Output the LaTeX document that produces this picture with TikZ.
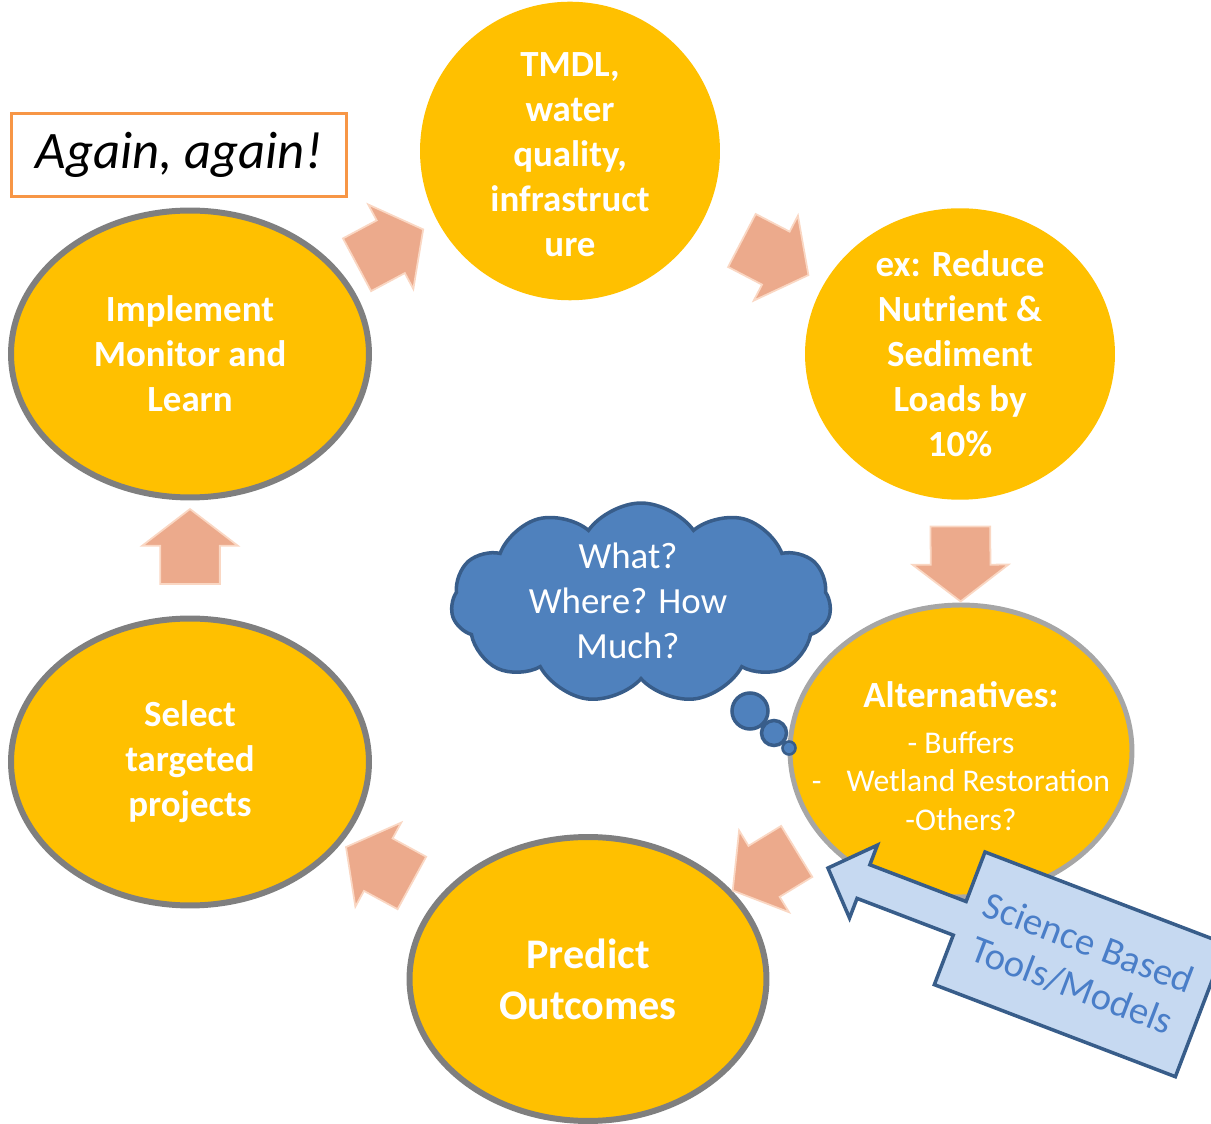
\documentclass[tikz,border=0pt]{standalone}
\usepackage{fontspec}
\setmainfont{Carlito}
\usepackage{tikz}
\usetikzlibrary{positioning,calc,shapes.geometric,shapes.symbols,shapes.arrows}
\definecolor{stagegold}{RGB}{255,192,0}
\definecolor{stageedge}{RGB}{127,127,127}
\definecolor{altedge}{RGB}{166,166,166}
\definecolor{flowpeach}{RGB}{236,170,140}
\definecolor{flowrim}{RGB}{250,215,195}
\definecolor{cloudfill}{RGB}{79,129,189}
\definecolor{cloudedge}{RGB}{56,93,138}
\definecolor{toolsfill}{RGB}{198,217,241}
\definecolor{toolstext}{RGB}{74,126,200}
\definecolor{againedge}{RGB}{247,150,70}

\begin{document}
\begin{tikzpicture}[
    x=0.02cm, y=-0.02cm,
    stage/.style={ellipse, fill=stagegold, inner sep=0pt, align=center, text=white, font=\bfseries\fontsize{21}{25.6}\selectfont},
    ringed/.style={stage, draw=stageedge, line width=3.4pt},
    flow/.style={single arrow, fill=flowpeach, draw=flowrim, line width=1pt, minimum height=1.5cm, inner xsep=0pt, inner ysep=0.58cm, single arrow head extend=0.36cm, single arrow tip angle=105},
    thought/.style={fill=cloudfill, draw=cloudedge, line width=2pt},
]
    \useasboundingbox (0, 0) rectangle (1211, 1124);
    \clip (0, 0) rectangle (1211, 1124);

    \node[stage, minimum width=6cm, minimum height=5.94cm] (tmdl) at (570, 151) {\\[-8pt]TMDL,\\water\\quality,\\infrastruct\\ure};
    \node[stage, minimum width=6.2cm, minimum height=5.76cm] (reduce) at (960, 354) {ex: Reduce\\Nutrient \&\\Sediment\\Loads by\\10\%};
    \node[stage, draw=altedge, line width=2.8pt, minimum width=6.84cm, minimum height=5.84cm] (alternatives) at (961, 751) {};
    \node[align=center, text=white, font=\fontsize{18}{22}\selectfont] (altlist) at (961, 756) {{\bfseries\fontsize{21}{22}\selectfont Alternatives:}\\[4pt]- Buffers\\-\hspace{0.5cm}Wetland Restoration\\-Others?};
    \node[ringed, minimum width=7.14cm, minimum height=5.68cm, font=\bfseries\fontsize{24}{29}\selectfont] (predict) at (588, 979) {Predict\\Outcomes};
    \node[ringed, minimum width=7.16cm, minimum height=5.74cm] (select) at (190, 762) {Select\\targeted\\projects};
    \node[ringed, minimum width=7.16cm, minimum height=5.74cm] (implement) at (190, 354) {Implement\\Monitor and\\Learn};

    \node[draw=againedge, line width=1.6pt, minimum width=6.7cm, minimum height=1.66cm, font=\itshape\fontsize{30}{36}\selectfont] (again) at (179, 155) {Again, again!};

    % block arrows of the cycle
    \foreach \from/\to in {implement/tmdl, tmdl/reduce, reduce/alternatives, alternatives/predict, predict/select, select/implement}
        \path let \p1 = ($(\to)-(\from)$), \n1 = {atan2(\y1,\x1)} in
            node[flow, rotate=\n1] (\from-\to) at ($(\from)!0.5!(\to)$) {};

    \node[cloud, thought, cloud puffs=11, cloud puff arc=110, cloud ignores aspect, minimum width=7.6cm, minimum height=4cm] (question) at (641, 603) {};
    \node[align=center, text=white, font=\fontsize{21}{25.6}\selectfont] (questiontext) at (628, 601) {What?\\Where? How\\Much?};
    \node[circle, thought, minimum size=0.72cm, inner sep=0pt] (bubble1) at (750, 711) {};
    \node[circle, thought, minimum size=0.5cm, inner sep=0pt] (bubble2) at (774, 733) {};
    \node[circle, thought, line width=1.5pt, minimum size=0.26cm, inner sep=0pt] (bubble3) at (789, 748) {};

    \begin{scope}[shift={(985, 852)}, rotate=-20.9]
        \draw[fill=toolsfill, draw=cloudedge, line width=2pt] (0, 0) -- (258, 0) -- (258, 142) -- (0, 142) -- (0, 89) -- (-103, 89) -- (-103, 110) -- (-141, 71) -- (-103, 32) -- (-103, 53) -- (0, 53) -- cycle;
        \node[rotate=-20.9, text=toolstext, align=center, font=\fontsize{22}{26}\selectfont] (tools) at (129, 71) {Science Based\\Tools/Models};
    \end{scope}
\end{tikzpicture}
\end{document}
